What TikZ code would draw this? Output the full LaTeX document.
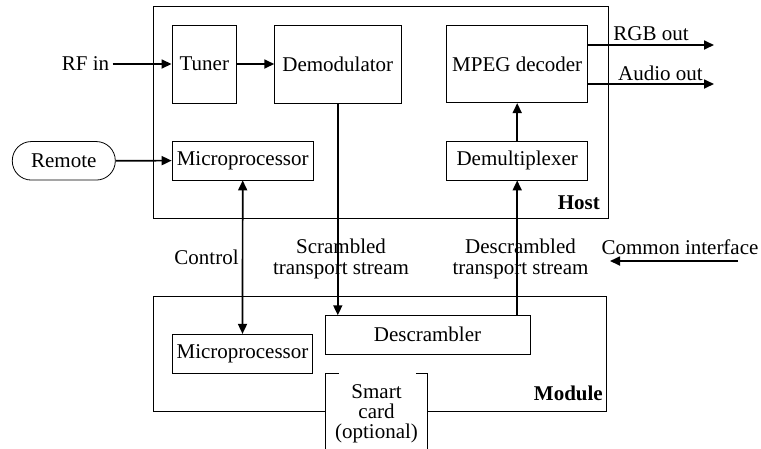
\documentclass[tikz,border=0pt]{standalone}
\usepackage{fontspec}
\setmainfont{Liberation Serif}
\usetikzlibrary{arrows.meta}

\begin{document}
\begin{tikzpicture}[x=1pt, y=-1pt,
  font=\fontsize{21}{21}\selectfont,
  blk/.style={draw, line width=0.8pt, inner sep=0pt},
  arr/.style={line width=1.7pt, -{Triangle[length=10pt,width=9pt]}},
  dblarr/.style={line width=1.7pt, {Triangle[length=10pt,width=9pt]}-{Triangle[length=10pt,width=9pt]}},
  bold/.style={font=\fontsize{21}{21}\selectfont\bfseries, inner sep=0pt}]
\useasboundingbox (0,0) rectangle (761,448);

% 外框
\node[blk, minimum width=455pt, minimum height=212pt] (host) at (380.5,112) {};
\node[blk, minimum width=453.4pt, minimum height=115.7pt] (module) at (380,353.85) {};
\node[bold, anchor=base east] (hostlbl) at (600,209) {Host};
\node[bold, anchor=base east] (modlbl) at (603,400) {Module};

% 定义节点
\node[blk, minimum width=64.7pt, minimum height=78pt] (tuner) at (204.3,64) {Tuner};
\node[blk, minimum width=126.3pt, minimum height=78pt] (demod) at (337.8,64) {Demodulator};
\node[blk, minimum width=141pt, minimum height=77.4pt] (mpeg) at (517.2,64) {MPEG decoder};
\node[blk, minimum width=141.3pt, minimum height=39pt] (hmicro) at (242.7,160.5) {Microprocessor};
\node[blk, minimum width=141pt, minimum height=39pt] (demux) at (517.2,160.5) {Demultiplexer};
\node[blk, rounded corners=19pt, minimum width=103pt, minimum height=38.5pt] (remote) at (63.8,160.8) {Remote};
\node[blk, minimum width=140.4pt, minimum height=39pt] (mmicro) at (242.5,353.8) {Microprocessor};
\node[blk, minimum width=205pt, minimum height=38.3pt] (descr) at (427.5,334.8) {Descrambler};
\node[fill=white, inner sep=0pt, minimum width=101.6pt, minimum height=80pt, anchor=north,
  align=center, font=\fontsize{21}{20}\selectfont] (card) at (376.5,373.3) {Smart\\card\\(optional)};
\draw[line width=0.8pt] ([xshift=13pt]card.north west) -- (card.north west) -- (card.south west);
\draw[line width=0.8pt] ([xshift=-11.6pt]card.north east) -- (card.north east) -- (card.south east);

% 文字
\node (rfin) at (85.5,64) {RF in};
\node[inner sep=0pt] (rgb) at (651,33.5) {RGB out};
\node[inner sep=0pt] (audio) at (660.5,73.5) {Audio out};
\node[inner sep=0pt] (ctrl) at (206.5,257) {Control};
\node[inner sep=0pt, align=center] (scr) at (341,258.5) {Scrambled\\transport stream};
\node[inner sep=0pt, align=center] (dscr) at (520.5,258.5) {Descrambled\\transport stream};
\node[inner sep=0pt] (ci) at (680,247) {Common interface};
\coordinate (rgbend) at (714,45);
\coordinate (audioend) at (714,84);
\coordinate (cistart) at (738,261);
\coordinate (ciend) at (610,261);

% 连接节点
\draw[arr] (rfin.east) -- (tuner.west);
\draw[arr] (tuner) -- (demod);
\draw[arr] (remote) -- (hmicro);
\draw[dblarr] (hmicro.south) -- (mmicro.north);
\draw[arr] (demod.south) -- (demod.south |- descr.north);
\draw[arr] (demux.south |- descr.north) -- (demux.south);
\draw[arr] (demux) -- (mpeg);
\draw[arr] (mpeg.east |- rgbend) -- (rgbend);
\draw[arr] (mpeg.east |- audioend) -- (audioend);
\draw[arr] (cistart) -- (ciend);

\end{tikzpicture}
\end{document}
